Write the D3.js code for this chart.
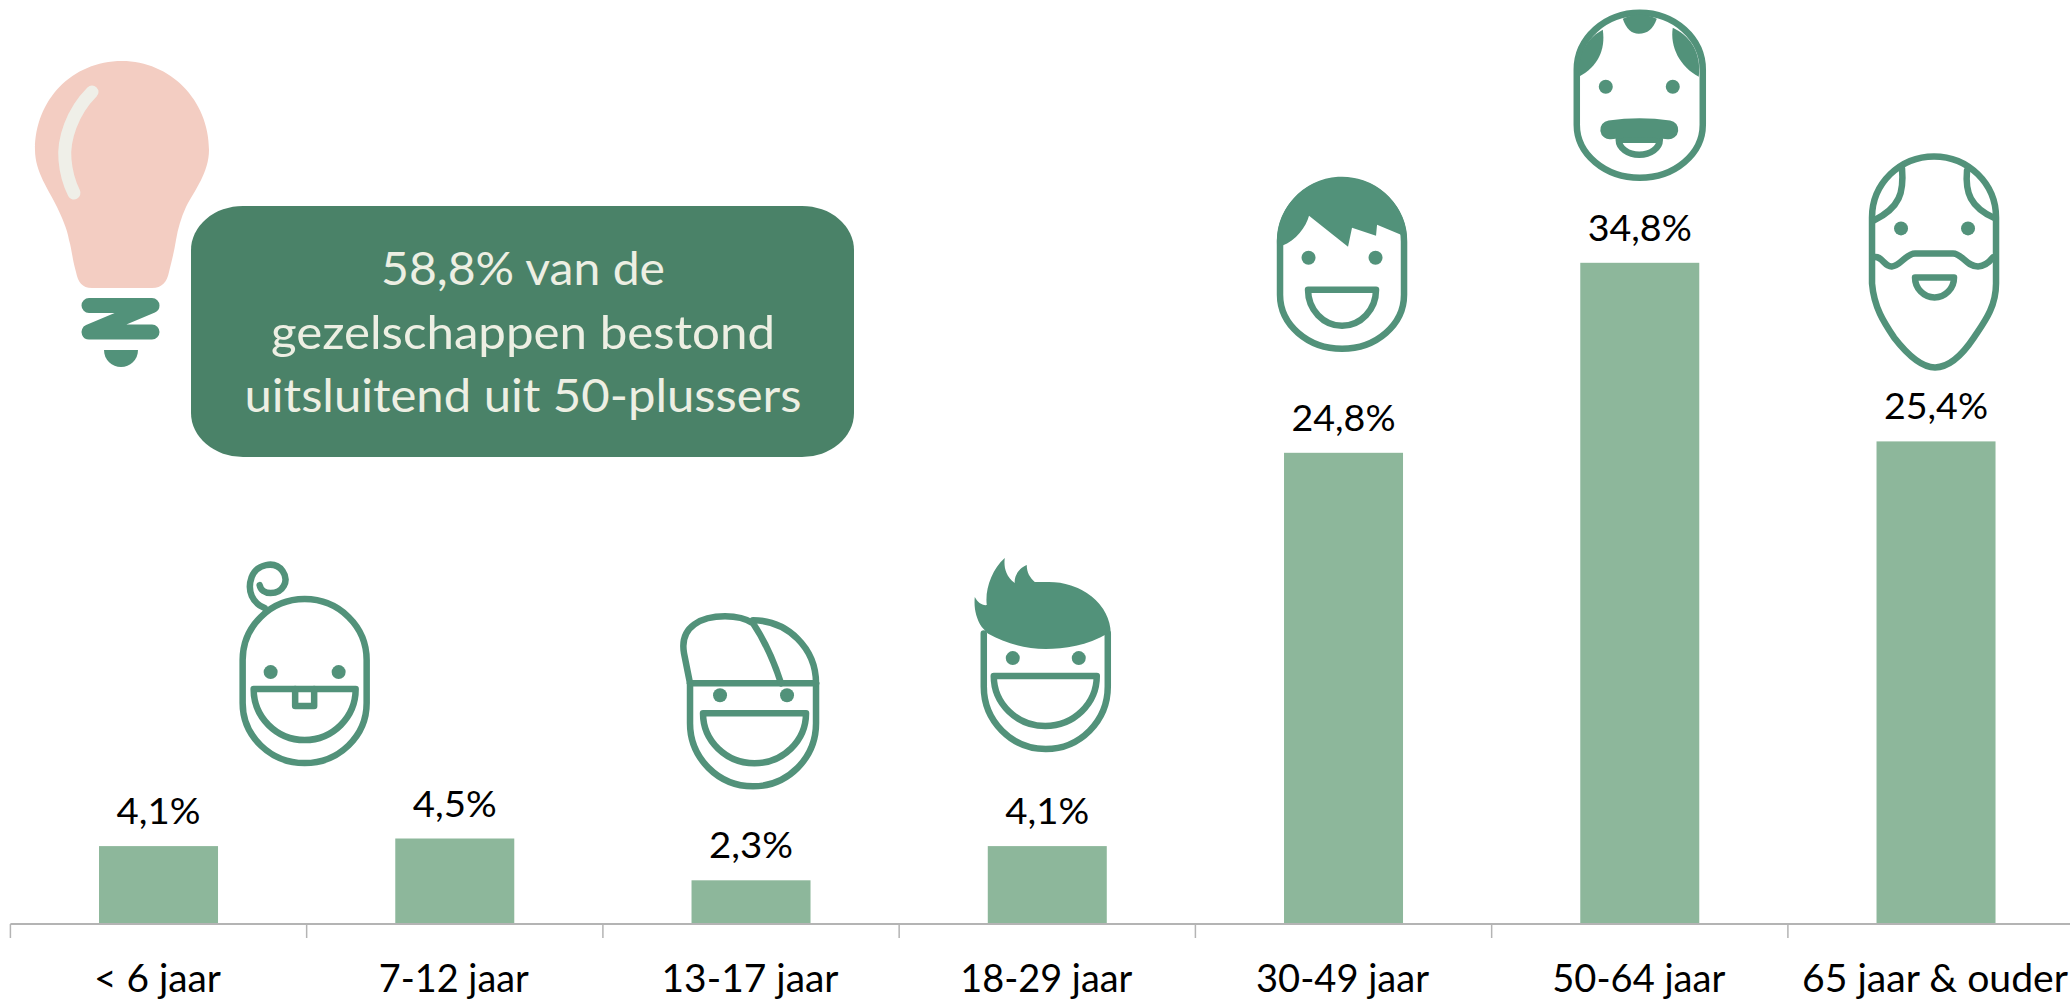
<!DOCTYPE html>
<html><head><meta charset="utf-8">
<script src="https://cdn.jsdelivr.net/npm/d3@7"></script>
<style>html,body{margin:0;background:#fff}svg{display:block}text{font-family:Lato,"Open Sans",sans-serif}</style>
</head><body><svg id="c" width="2070" height="1001"></svg>
<script>
const categories=["< 6 jaar","7-12 jaar","13-17 jaar","18-29 jaar","30-49 jaar","50-64 jaar","65 jaar & ouder"];
const values=[4.1,4.5,2.3,4.1,24.8,34.8,25.4];
const noteLines=["58,8% van de","gezelschappen bestond","uitsluitend uit 50-plussers"];
const iconNames=["baby","cap","young","man","old","elder"];
const iconBars=[0,2,3,4,5,6];
const iconLift=[165,177,180.5,188,168,179];
const iconShift=[-2,2,-1.5,-1.5,0,-2];

const svg=d3.select("#c");
const INK="#52927A",BAR="#8DB79B";
const x=d3.scaleBand().domain(categories).range([10.4,10.4+296.25*7]).paddingInner(0).paddingOuter(0);
const y=d3.scaleLinear().domain([0,35]).range([924,924-19*35]);
const barW=119;
const fmt=v=>String(v.toFixed(1)).replace(".",",")+"%";

// note lamp + box
const lamp=svg.append("g");
lamp.append("path").attr("fill","#F3CDC2").attr("d","M122,61C170,61 209,100 209,150C209,172 195,190 186,207C181,218 178,228 176,240C174,252 172,260 169,272C167,282 162,288 152,288H92C82,288 78,282 76,272C72,258 72,250 69,240C67,228 62,218 57,207C49,190 35,172 35,150C35,100 72,61 122,61Z");
lamp.append("path").attr("fill","none").attr("stroke","#EFEFE8").attr("stroke-width",13).attr("stroke-linecap","round").attr("d","M92,92C72,112 63,140 65,160C66,172 69,183 74,193");
lamp.append("path").attr("fill","none").attr("stroke",INK).attr("stroke-width",15).attr("stroke-linecap","round").attr("stroke-linejoin","round").attr("d","M89,305.5H152L89,332H152");
lamp.append("path").attr("fill",INK).attr("d","M104,350H138C138,360 130,367 121,367C112,367 104,360 104,350Z");
svg.append("rect").attr("x",191).attr("y",206).attr("width",663).attr("height",251).attr("rx",52).attr("ry",44).attr("fill","#4A8268");
const noteLen=[284,504,557];
svg.selectAll("text.note").data(noteLines).join("text").attr("class","note")
 .attr("x",523).attr("y",(d,i)=>285+63.5*i).attr("text-anchor","middle").attr("font-size",47)
 .attr("fill","#EDEFE3").attr("textLength",(d,i)=>noteLen[i]).attr("lengthAdjust","spacingAndGlyphs").text(d=>d);

// bars
svg.selectAll("rect.bar").data(values).join("rect").attr("class","bar")
 .attr("x",(d,i)=>x(categories[i])+x.bandwidth()/2-barW/2).attr("width",barW)
 .attr("y",d=>y(d)).attr("height",d=>y(0)-y(d)).attr("fill",BAR);

// axis
const ax=svg.append("g").attr("transform",`translate(0,${y(0)})`).call(d3.axisBottom(x).tickSize(0).tickFormat(""));
ax.select(".domain").attr("stroke","#B4B4B4").attr("stroke-width",2).attr("d",`M10.4,0H2070`);
ax.selectAll(".tick").remove();
ax.selectAll("line.t").data(categories).join("line").attr("class","t")
 .attr("x1",d=>x(d)).attr("x2",d=>x(d)).attr("y1",0).attr("y2",14).attr("stroke","#B4B4B4").attr("stroke-width",1.5);

const catLen=[127,150,177,172,173,173,266];
svg.selectAll("text.cat").data(categories).join("text").attr("class","cat")
 .attr("x",d=>x(d)+x.bandwidth()/2-1).attr("y",992).attr("text-anchor","middle").attr("font-size",38).attr("fill","#000")
 .attr("textLength",(d,i)=>catLen[i]).attr("lengthAdjust","spacingAndGlyphs").text(d=>d);

svg.selectAll("text.val").data(values).join("text").attr("class","val")
 .attr("x",(d,i)=>x(categories[i])+x.bandwidth()/2).attr("y",d=>y(d)-22).attr("text-anchor","middle").attr("font-size",37).attr("fill","#000")
 .attr("textLength",d=>d>=10?104:84).attr("lengthAdjust","spacingAndGlyphs").text(fmt);

// icons: local coordinates around the head centre
const head=(hw,t,s1,s2,b)=>`M${-hw},${s1}A${hw},${s1-t} 0 0 1 ${hw},${s1}V${s2}A${hw},${b-s2} 0 0 1 ${-hw},${s2}Z`;
const mouth=(l,r,t,b)=>`M${l},${t}H${r}A${(r-l)/2},${b-t} 0 0 1 ${l},${t}Z`;
const icons={
 baby:{eyes:[[-34,-9],[34,-9]],line:[head(62,-82,-21,22,82),mouth(-51,51,8,59),"M-9.5,8V25H9.5V8","M-40,-73C-52,-78 -58,-90 -53,-104C-48,-117 -30,-121 -22,-110C-15,-100 -22,-88 -34,-88C-40,-88 -44,-91 -45,-96"],fill:[]},
 cap:{eyes:[[-33,-8],[34,-8]],line:["M-63,-20V20A63,63 0 0 0 63,20V-20","M0,-83A63,63 0 0 1 63,-20","M-63,-20H63",mouth(-50,53,10,60),"M-63,-20L-69,-50C-74,-78 -50,-87 -28,-87C-15,-87 -6,-84 0,-80C12,-62 20,-45 28,-20"],fill:[]},
 young:{eyes:[[-33,-7.5],[33,-7.5]],line:["M-62,-32V21A62,62.5 0 0 0 62,21V-32",mouth(-52,51,10.5,60.5)],fill:["M62,-32C42,-20 18,-16.5 0,-16.5C-20,-16.5 -40,-22 -58,-32L-64,-38.5C-70,-48 -72,-58 -71,-68.5C-68,-63 -64,-60 -59,-60.5C-61,-76 -54,-96 -41,-107.5C-42,-100 -41,-90 -31,-82.5C-32,-90 -26,-98 -19,-100.5C-19,-93 -16,-88 -11,-83.5L1,-83.5A62,52 0 0 1 65,-32Z"]},
 man:{eyes:[[-33.5,-7],[33.5,-7]],line:[head(62,-84,-23,30,84),mouth(-34,34,25,61)],fill:["M-65,-19A64,64 0 0 1 65,-27L59,-30L35,-40L34,-29L10,-37L6,-18L-33,-49C-36,-38 -46,-24 -60,-19Z"]},
 old:{eyes:[[-34,-8],[33,-8]],line:[head(63,-82,-25,30,83),mouth(-21,20,45,60)],fill:["M-37,-65C-34,-45 -42,-28 -61,-18C-62,-45 -50,-58 -37,-65Z","M-17,-76Q-12,-61 -1,-61Q12,-61 17,-76Q0,-84 -17,-76Z","M33,-67C30,-48 40,-28 59,-18C62,-45 48,-60 33,-67Z"],thick:"M-30,35Q0,31 29,35"},
 elder:{eyes:[[-33,-34],[34,-34]],line:["M-62,-45A62,61 0 0 1 62,-45V21C62,45 50,60 40,75C28,93 14,105 1,105C-12,105 -26,93 -40,75C-50,60 -60,45 -62,21Z","M-61,-5C-52,-8 -50,5 -42,4C-34,4 -28,-9 -19,-9H19C28,-9 32,4 44,4C50,4 55,0 59,-5","M-32,-94C-30,-70 -34,-55 -60,-42","M33,-92C31,-70 36,-55 61,-44",mouth(-19,20,15,35)],fill:[]}
};
const g=svg.selectAll("g.icon").data(iconNames).join("g").attr("class","icon")
 .attr("transform",(n,i)=>{const b=iconBars[i];const c=(n==="baby"?x(categories[1]):x(categories[b])+x.bandwidth()/2)+iconShift[i];return `translate(${c},${y(values[b])-iconLift[i]})`;});
g.each(function(n){
 const s=d3.select(this),ic=icons[n];
 ic.line.forEach(d=>s.append("path").attr("d",d).attr("fill","none").attr("stroke",INK).attr("stroke-width",6.5).attr("stroke-linejoin","round").attr("stroke-linecap","round"));
 ic.fill.forEach(d=>s.append("path").attr("d",d).attr("fill",INK));
 if(ic.thick)s.append("path").attr("d",ic.thick).attr("fill","none").attr("stroke",INK).attr("stroke-width",19).attr("stroke-linecap","round");
 ic.eyes.forEach(e=>s.append("circle").attr("cx",e[0]).attr("cy",e[1]).attr("r",7).attr("fill",INK));
});
</script></body></html>
